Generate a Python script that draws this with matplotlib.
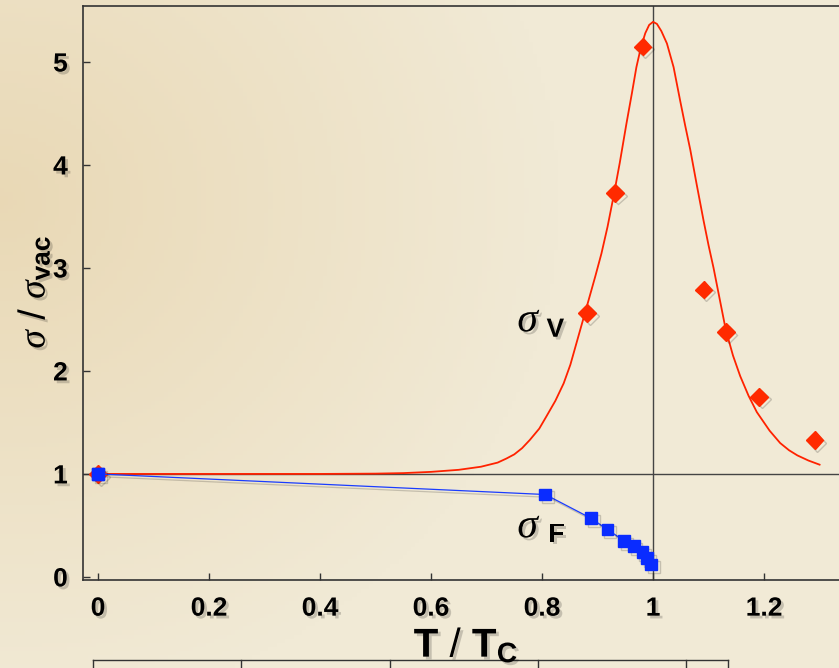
import numpy as np
import matplotlib
matplotlib.use('Agg')
import matplotlib.pyplot as plt
import matplotlib.patheffects as pe
from matplotlib.lines import Line2D

plt.rcParams['font.family'] = ['Liberation Sans', 'DejaVu Sans']
plt.rcParams['mathtext.fontset'] = 'custom'
plt.rcParams['mathtext.rm'] = 'Liberation Sans'
plt.rcParams['mathtext.it'] = 'Liberation Serif:italic'
plt.rcParams['mathtext.bf'] = 'Liberation Sans:bold'

# sigma_V data points (diamonds)
tv = [0.0, 0.881, 0.932, 0.981, 1.091, 1.131, 1.191, 1.291]
sv = [1.0, 2.56, 3.73, 5.15, 2.79, 2.38, 1.75, 1.33]

# sigma_V fit curve
tc = [0.0, 0.1, 0.2, 0.3, 0.4, 0.5, 0.55, 0.6, 0.65, 0.69, 0.72, 0.736, 0.75,
      0.764, 0.778, 0.795, 0.808, 0.824, 0.839, 0.851, 0.862, 0.873, 0.884,
      0.896, 0.907, 0.918, 0.929, 0.94, 0.952, 0.962, 0.970, 0.978, 0.986,
      0.993, 1.0, 1.007, 1.015, 1.025, 1.037, 1.049, 1.058, 1.067, 1.079,
      1.091, 1.100, 1.109, 1.12, 1.131, 1.144, 1.157, 1.172, 1.187, 1.21,
      1.229, 1.245, 1.26, 1.28, 1.30]
sc = [1.0, 1.0, 1.0, 1.0, 1.0, 1.003, 1.008, 1.02, 1.04, 1.07, 1.11, 1.15, 1.19,
      1.25, 1.33, 1.44, 1.56, 1.71, 1.88, 2.06, 2.27, 2.48, 2.69,
      2.92, 3.14, 3.40, 3.70, 4.02, 4.40, 4.70, 4.95, 5.14, 5.28,
      5.36, 5.39, 5.37, 5.30, 5.18, 4.95, 4.62, 4.38, 4.15, 3.80,
      3.46, 3.22, 3.00, 2.70, 2.40, 2.15, 1.95, 1.76, 1.60, 1.42,
      1.30, 1.23, 1.18, 1.13, 1.09]

# sigma_F (squares)
tf = [0.0, 0.806, 0.888, 0.918, 0.948, 0.965, 0.981, 0.989, 0.996]
sf = [1.0, 0.80, 0.57, 0.46, 0.35, 0.30, 0.24, 0.18, 0.12]

xticks = [0, 0.2, 0.4, 0.6, 0.8, 1.0, 1.2]
xlabels = ['0', '0.2', '0.4', '0.6', '0.8', '1', '1.2']
yticks = [0, 1, 2, 3, 4, 5]

W, H = 839, 668
fig = plt.figure(figsize=(W / 100, H / 100), dpi=100)

# parchment background
bg = fig.add_axes([0, 0, 1, 1], zorder=-10)
gx, gy = np.meshgrid(np.linspace(0, 1, 200), np.linspace(0, 1, 160))
d = np.clip(1 - np.hypot(gx * 1.5, (gy - 0.3) * 1.3), 0, 1)
base = np.array([241, 234, 214]) / 255
warm = np.array([228, 205, 160]) / 255
img = base[None, None, :] * (1 - d[..., None] * 0.6) + warm[None, None, :] * d[..., None] * 0.6
bg.imshow(img, aspect='auto', extent=[0, 1, 0, 1])
bg.axis('off')

ax = fig.add_axes([83 / W, 1 - 580 / H, 1 - 83 / W, (580 - 6) / H])
ax.patch.set_alpha(0)
ax.set_xlim(-0.027, 1.335)
ax.set_ylim(-0.03, 5.544)

shadow = [pe.SimpleLineShadow(offset=(2, -2), alpha=0.18), pe.Normal()]
tshadow = [pe.withSimplePatchShadow(offset=(2, -2), alpha=0.18)]

ax.axhline(1, color='#444444', lw=1.0, zorder=1)
ax.axvline(1, color='#444444', lw=1.0, zorder=1)

ax.plot(tc, sc, color='#ff2200', lw=1.3, zorder=3)
ax.plot(tf, sf, color='#1a3cff', lw=0.9, marker='s', ms=8.5, mfc='#0a2cff',
        mec='#0a2cff', zorder=4, path_effects=shadow)
ax.plot(tv, sv, ls='none', marker='D', ms=9, mfc='#ff2a00', mec='#ff2a00',
        zorder=3, path_effects=shadow)
ax.plot(tf[:1], sf[:1], ls='none', marker='s', ms=8.5, mfc='#0a2cff',
        mec='#0a2cff', zorder=5)

ax.spines['right'].set_visible(False)
for side in ['left', 'top', 'bottom']:
    ax.spines[side].set_color('#333333')
    ax.spines[side].set_linewidth(1.2)

ax.set_xticks(xticks)
ax.set_xticklabels(xlabels)
ax.set_yticks(yticks)
ax.tick_params(direction='in', length=5, width=1, color='#333333',
               labelsize=19, top=False, right=False)
ax.tick_params(axis='x', pad=12)
ax.tick_params(axis='y', pad=11)
for lab in ax.get_xticklabels() + ax.get_yticklabels():
    lab.set_fontweight('bold')
    lab.set_path_effects(tshadow)

# curve labels
ax.text(0.777, 2.49, r'$\sigma$', fontsize=30, ha='center', va='center',
        path_effects=tshadow)
ax.text(0.824, 2.40, 'V', fontsize=19, fontweight='bold', ha='center',
        va='center', path_effects=tshadow)
ax.text(0.777, 0.49, r'$\sigma$', fontsize=30, ha='center', va='center',
        path_effects=tshadow)
ax.text(0.826, 0.41, 'F', fontsize=19, fontweight='bold', ha='center',
        va='center', path_effects=tshadow)

# axis titles
fig.text(34 / W, 1 - 292 / H, r'$\sigma$ / $\sigma_{\mathbf{vac}}$',
         fontsize=27, rotation=90, ha='center', va='center',
         path_effects=tshadow)
fig.text(466 / W, 1 - 645 / H, r'$\mathbf{T}$ / $\mathbf{T}_{\mathbf{C}}$',
         fontsize=29, ha='center', va='center', path_effects=tshadow)

# bottom table edge
tab_y = 1 - 660 / H
fig.add_artist(Line2D([93 / W, 728 / W], [tab_y, tab_y], color='#333333', lw=1))
for xv in [93, 241, 390, 538, 686, 728]:
    fig.add_artist(Line2D([xv / W, xv / W], [tab_y, 0], color='#333333', lw=1))

fig.savefig('out.png', dpi=100)
